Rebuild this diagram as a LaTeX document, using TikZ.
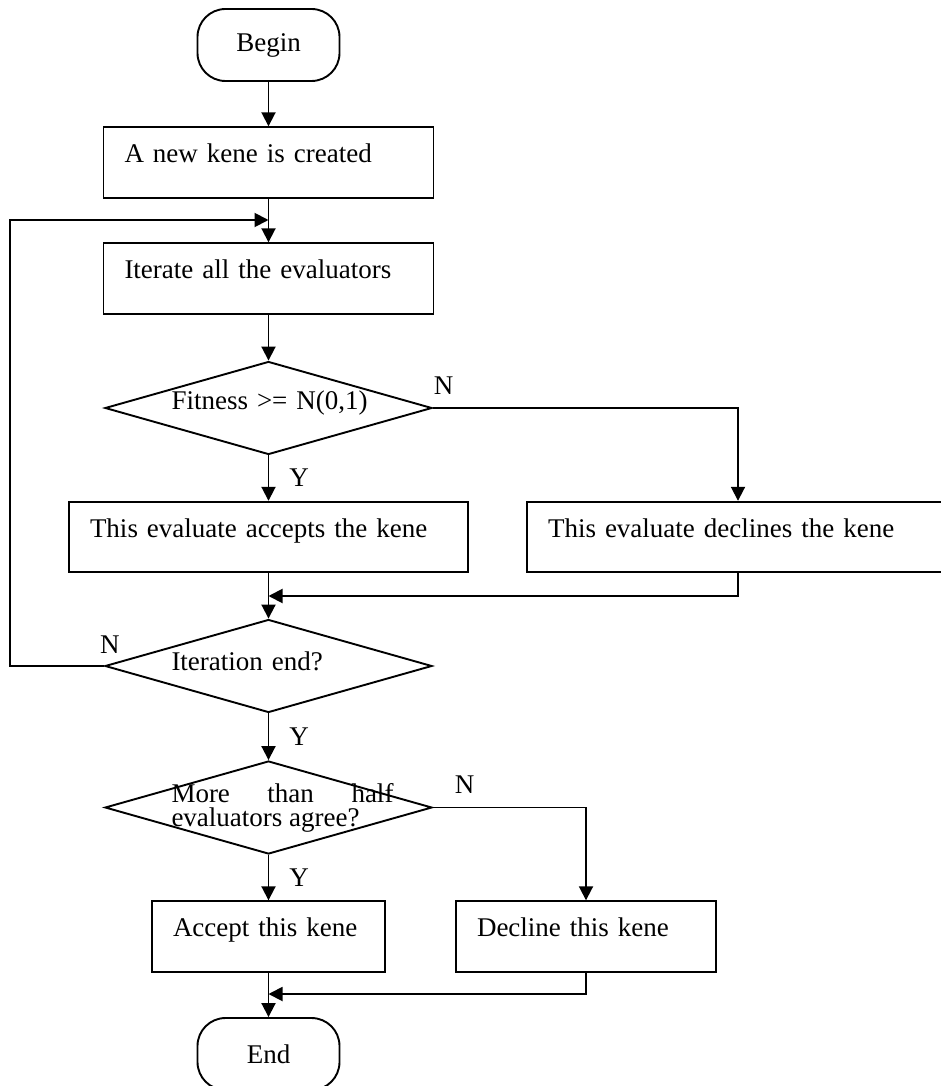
\documentclass[tikz,border=0pt]{standalone}
\usepackage{fontspec}
\setmainfont{Liberation Serif}
\usetikzlibrary{shapes.geometric,arrows.meta}
\begin{document}
\begin{tikzpicture}[x=1pt,y=-1pt,line width=1.9pt,
    font=\fontsize{27pt}{32pt}\selectfont,
    >={Triangle[length=14pt,width=14pt]},
    term/.style={draw,rectangle,rounded corners=28pt,minimum width=142pt,
      minimum height=72pt,inner sep=0pt},
    proc/.style={draw,rectangle,align=left,inner xsep=21pt,inner ysep=0pt,
      text height=35.5pt,text depth=35pt},
    test/.style={draw,diamond,aspect=3.5,minimum width=327pt,
      minimum height=93pt,inner sep=0pt},
    cond/.style={text width=222pt,align=left,inner sep=0pt,xshift=14pt},
    tag/.style={inner sep=0pt}]
  \useasboundingbox (0,0) rectangle (941,1086);

  \node[term] (begin) at (268.5,45) {Begin};
  \node[proc,text width=288pt] (create) at (268.5,162.5) {A new kene is created};
  \node[proc,text width=288pt] (iterate) at (268.5,278.5) {Iterate all the evaluators};
  \node[test,label={[cond,yshift=5pt]center:{Fitness >= N(0,1)}}] (fit) at (268.5,408) {};
  \node[proc,text width=357pt] (acc) at (268.5,537) {This evaluate accepts the kene};
  \node[proc,text width=380pt] (dec) at (738,537) {This evaluate declines the kene};
  \node[test,label={[cond,yshift=5pt]center:{Iteration end?}}] (iterend) at (268.5,666) {};
  \node[test,label={[cond,align=justify,font=\fontsize{27pt}{24pt}\selectfont]center:{More than half \mbox{evaluators} agree?}}] (half) at (268.5,807.5) {};
  \node[proc,text width=191pt] (accept) at (268.5,936.5) {Accept this kene};
  \node[proc,text width=218pt] (decline) at (586,936.5) {Decline this kene};
  \node[term] (end) at (268.5,1054) {End};

  \coordinate (loopleft) at (10,220);
  \coordinate (loopjoin) at (268.5,220);
  \coordinate (joinA) at (268.5,596);
  \coordinate (joinB) at (268.5,994);

  % main column
  \foreach \from/\to in {begin/create,create/iterate,iterate/fit,acc/iterend,accept/end}
    \draw[->] (\from) -- (\to);
  \draw[->] (fit) -- (acc) node[tag,midway,right=20pt] {Y};
  \draw[->] (iterend) -- (half) node[tag,midway,right=20pt] {Y};
  \draw[->] (half) -- (accept) node[tag,midway,right=20pt] {Y};

  % side branches
  \draw[->] (fit.east) -| (dec.north)
    node[tag,pos=0,anchor=south west,yshift=13pt] {N};
  \draw[->] (dec.south) |- (joinA);
  \draw[->] (iterend.west) -| (loopleft)
    node[tag,pos=0,anchor=south west,xshift=-5pt,yshift=12pt] {N} -- (loopjoin);
  \draw[->] (half.east) -| (decline.north)
    node[tag,pos=0,anchor=south west,xshift=21pt,yshift=13pt] {N};
  \draw[->] (decline.south) |- (joinB);
\end{tikzpicture}
\end{document}
